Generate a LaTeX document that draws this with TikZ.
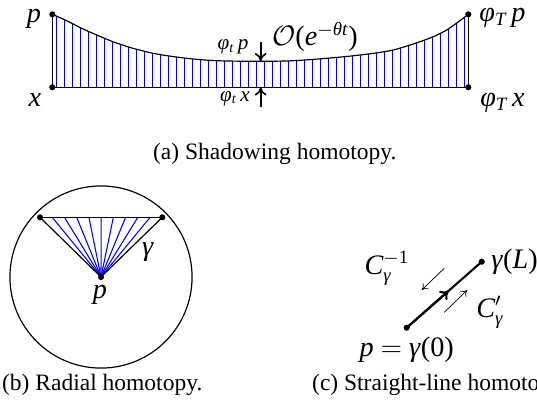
\documentclass[tikz,border=0pt]{standalone}
\usepackage{amsmath}
\usepackage{fontspec}
\setmainfont{Liberation Serif}
\usetikzlibrary{arrows.meta,calc}
\newcommand\mi[1]{\textit{#1}}
\definecolor{hairblue}{RGB}{0,0,255}
\begin{document}
\begin{tikzpicture}[x=0.4255pt,y=-0.4255pt,
  edge/.style={line width=0.5pt},
  hair/.style={hairblue,line width=0.45pt},
  dot/.style={circle,fill=black,inner sep=0pt,minimum size=2.6pt},
  lbl/.style={inner sep=0pt,font=\large},
  captext/.style={inner sep=0pt},
  smalllbl/.style={font=\small,inner sep=0pt},
  bigarrow/.style={-{To[length=3.5pt,width=5pt]},line width=0.7pt},
  thinarrow/.style={-{To[length=2.5pt,width=3.5pt]},line width=0.3pt},
  pathline/.style={line width=0.9pt},
]
\useasboundingbox (0,0) rectangle (537,415);
\clip (0,0) rectangle (537,415);
% ---------- (a) ----------
\coordinate (P0) at (52.3,14.3);
\coordinate (X0) at (52.3,87.3);
\coordinate (PT) at (468.3,14.3);
\coordinate (XT) at (468.3,87.3);
\def\shadowcurve{plot[smooth] coordinates {(52.3,14.3) (66.7,20.7) (81.7,28.3) (96.7,35) (113,41.7) (133,48.3) (156.7,54) (186.7,58.3) (216.7,60.7) (260,61.3) (293,60.7) (326.7,58.3) (360,55) (393,50) (426.7,39.3) (446.7,30) (468.3,14.3)}}
\begin{scope}
  \clip \shadowcurve -- (XT) -- (X0) -- cycle;
  \foreach \k in {0,...,51}
    \draw[hair] ({56.5+\k*8},0) -- ({56.5+\k*8},90);
\end{scope}
\draw[edge] \shadowcurve;
\draw[edge] (X0) -- (XT);
\draw[edge] (X0) -- (P0);
\draw[edge] (XT) -- (PT);
\foreach \c in {P0,X0,PT,XT} \node[dot] at (\c) {};
\coordinate (Atop) at (260.7,41.5);
\coordinate (Acurve) at (260.7,61.2);
\coordinate (Abot) at (260.7,107);
\coordinate (Aline) at (260.7,87.3);
\draw[bigarrow] (Atop) -- (Acurve);
\draw[bigarrow] (Abot) -- (Aline);
\node[lbl] (lp) at (34,19) {\mi{p}};
\node[lbl] (lx) at (35,100.5) {\mi{x}};
\node[lbl] (lpT) at (502.5,17.5) {\mi{φ}$_{\mi{T}}$\,\mi{p}};
\node[lbl] (lxT) at (502.5,102.5) {\mi{φ}$_{\mi{T}}$\,\mi{x}};
\node[smalllbl] (lpt) at (233,47) {\mi{φ}$_{\mi{t}}$\,\mi{p}};
\node[smalllbl] (lxt) at (235,98.5) {\mi{φ}$_{\mi{t}}$\,\mi{x}};
\node[lbl] (bigO) at (315,37) {$\mathcal{O}$(\mi{e}$^{-\mi{θt}}$)};
\node[captext,anchor=base west] (capa) at (152.7,159) {(a) Shadowing homotopy.};
% ---------- (b) ----------
\coordinate (C) at (101,277);
\coordinate (L) at (40,217.3);
\coordinate (R) at (162.3,217.3);
\draw[edge] (C) circle[radius=38.75pt];
\foreach \i in {1,...,9} \draw[hair] (C) -- ($(L)!\i/10!(R)$);
\draw[edge] (L) -- (R);
\draw[edge] (L) -- (C) -- (R);
\foreach \c in {L,R,C} \node[dot] at (\c) {};
\node[lbl] (gam) at (148,252.5) {\mi{γ}};
\node[lbl] (lpb) at (100,295) {\mi{p}};
\node[captext,anchor=base west] (capb) at (1.7,390) {(b) Radial homotopy.};
% ---------- (c) ----------
\coordinate (S) at (406.7,327.7);
\coordinate (E) at (481.7,261.7);
\draw[pathline] (S) -- (E);
\draw[pathline,-{To[length=3.5pt,width=5pt]}] (S) -- ($(S)!0.56!(E)$);
\foreach \c in {S,E} \node[dot] at (\c) {};
\coordinate (u1) at (444.3,268.3);
\coordinate (u2) at (421.7,290);
\coordinate (d1) at (444.3,312.3);
\coordinate (d2) at (467.3,290);
\draw[thinarrow] (u1) -- (u2);
\draw[thinarrow] (d1) -- (d2);
\node[lbl] (cinv) at (387,268) {$\mi{C}^{-\text{1}}_{\mi{γ}}$};
\node[lbl] (cp) at (490,312) {$\mi{C}'_{\mi{γ}}$};
\node[lbl,anchor=west] (gL) at (491,262) {\mi{γ}(\mi{L})};
\node[lbl] (p0) at (406.7,350) {\mi{p} $=$ \mi{γ}(0)};
\node[captext,anchor=base west] (capc) at (311.7,390) {(c) Straight-line homotopy.};
\end{tikzpicture}
\end{document}
